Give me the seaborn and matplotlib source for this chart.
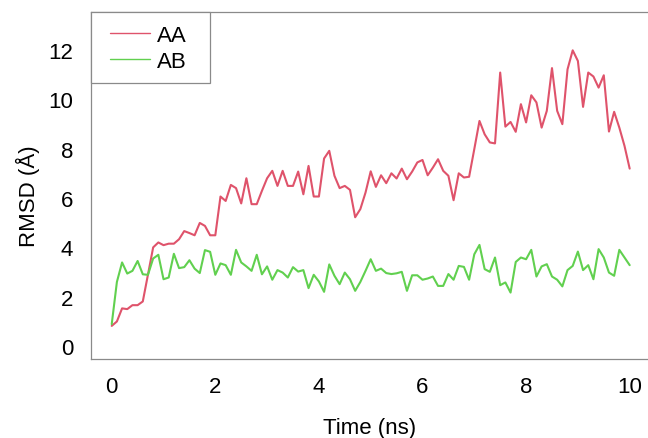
import numpy as np
import pandas as pd
import matplotlib
matplotlib.use("Agg")
import matplotlib.pyplot as plt
from matplotlib.patches import Rectangle
import seaborn as sns

# ---- data ----
time_ns = [round(0.1 * i, 1) for i in range(101)]

aa = [0.82, 1.00, 1.53, 1.50, 1.66, 1.66, 1.81, 2.90, 4.00, 4.20,
      4.09, 4.15, 4.15, 4.33, 4.66, 4.58, 4.49, 4.99, 4.87, 4.49,
      4.49, 6.06, 5.88, 6.53, 6.40, 5.78, 6.80, 5.75, 5.75, 6.29,
      6.80, 7.10, 6.49, 7.10, 6.49, 6.49, 7.07, 6.15, 7.30, 6.06,
      6.06, 7.60, 7.91, 6.90, 6.40, 6.49, 6.33, 5.22, 5.55, 6.22,
      7.08, 6.45, 6.92, 6.60, 7.00, 6.79, 7.19, 6.76, 7.07, 7.44,
      7.54, 6.92, 7.23, 7.57, 7.10, 6.90, 5.91, 7.00, 6.83, 6.86,
      7.98, 9.12, 8.58, 8.25, 8.21, 11.08, 8.89, 9.08, 8.68, 9.80,
      9.06, 10.16, 9.87, 8.85, 9.53, 11.26, 9.53, 8.99, 11.21, 11.98,
      11.55, 9.69, 11.08, 10.92, 10.47, 10.97, 8.69, 9.49, 8.85, 8.11, 7.19]

ab = [0.89, 2.60, 3.39, 2.94, 3.05, 3.45, 2.91, 2.89, 3.55, 3.70,
      2.71, 2.78, 3.74, 3.16, 3.20, 3.48, 3.14, 2.96, 3.89, 3.82,
      2.89, 3.35, 3.28, 2.89, 3.90, 3.39, 3.23, 3.05, 3.70, 2.91,
      3.23, 2.69, 3.08, 2.98, 2.78, 3.20, 3.02, 3.08, 2.35, 2.89,
      2.62, 2.20, 3.31, 2.85, 2.51, 2.98, 2.71, 2.24, 2.60, 3.05,
      3.52, 3.05, 3.14, 2.96, 2.92, 2.95, 3.01, 2.24, 2.87, 2.87,
      2.69, 2.74, 2.82, 2.44, 2.44, 2.92, 2.69, 3.25, 3.21, 2.69,
      3.72, 4.10, 3.12, 3.01, 3.59, 2.47, 2.58, 2.17, 3.41, 3.59,
      3.52, 3.90, 2.82, 3.23, 3.32, 2.82, 2.69, 2.42, 3.08, 3.25,
      3.83, 3.08, 3.28, 2.71, 3.93, 3.59, 2.98, 2.85, 3.90, 3.59, 3.28]

series_names = ["AA", "AB"]
series_colors = {"AA": "#DF536B", "AB": "#61D04F"}
x_ticks = [0, 2, 4, 6, 8, 10]
y_ticks = [0, 2, 4, 6, 8, 10, 12]

df = pd.DataFrame({
    "Time": time_ns * 2,
    "RMSD": aa + ab,
    "series": ["AA"] * len(aa) + ["AB"] * len(ab),
})

# ---- style ----
sns.set_theme(style="white")
plt.rcParams["font.family"] = ["Liberation Sans", "DejaVu Sans"]
plt.rcParams["text.color"] = "black"
plt.rcParams["axes.labelcolor"] = "black"
plt.rcParams["xtick.labelcolor"] = "black"
plt.rcParams["ytick.labelcolor"] = "black"
gray = "#8a8a8a"

W, H = 648, 439
fig = plt.figure(figsize=(W / 100, H / 100), dpi=100)
ax_left, ax_right, ax_top, ax_bottom = 91, 650.4, 13.3, 360
ax = fig.add_axes([ax_left / W, (H - ax_bottom) / H,
                   (ax_right - ax_left) / W, (ax_bottom - ax_top) / H])

sns.lineplot(data=df, x="Time", y="RMSD", hue="series", hue_order=series_names,
             palette=series_colors, linewidth=1.5, ax=ax, legend=True)

ax.set_xlim(-0.4, 10.4)
ax.set_ylim(-0.52, 13.52)
ax.set_xticks(x_ticks)
ax.set_yticks(y_ticks)
ax.set_xticklabels([str(v) for v in x_ticks])
ax.set_yticklabels([str(v) for v in y_ticks])

for s in ax.spines.values():
    s.set_color(gray)
    s.set_linewidth(0.9)
    s.set_visible(True)

ax.tick_params(axis="both", direction="out", length=4.3, width=0.9, color=gray,
               labelsize=16, labelcolor="black")
ax.tick_params(axis="y", pad=8.5)
ax.tick_params(axis="x", pad=8)

ax.set_xlabel("Time (ns)", fontsize=16, color="black")
ax.set_ylabel("RMSD (Å)", fontsize=16, color="black")
ax.xaxis.label.set_va("center")
ax.yaxis.label.set_va("center")
axw = ax_right - ax_left
axh = ax_bottom - ax_top
ax.xaxis.set_label_coords((370 - ax_left) / axw, (ax_bottom - 429) / axh)
ax.yaxis.set_label_coords((28 - ax_left) / axw, (ax_bottom - 196) / axh)

# legend
frame_w, frame_h = 119, 70.7
ax.add_patch(Rectangle((0, 1 - frame_h / axh), frame_w / axw, frame_h / axh,
                       transform=ax.transAxes, facecolor="white", edgecolor=gray,
                       linewidth=0.9, zorder=4, clip_on=False))
sns.move_legend(ax, "upper left", bbox_to_anchor=((110 - ax_left) / axw, 1 - 12.5 / axh),
                frameon=False, title=None, borderpad=0, borderaxespad=0,
                handlelength=1.8, handletextpad=0.3, labelspacing=0.22, fontsize=16)
leg = ax.get_legend()
leg.set_zorder(5)
for line in leg.get_lines():
    line.set_linewidth(1.0)
for t in leg.get_texts():
    t.set_color("black")

fig.savefig("out.png", dpi=100)
